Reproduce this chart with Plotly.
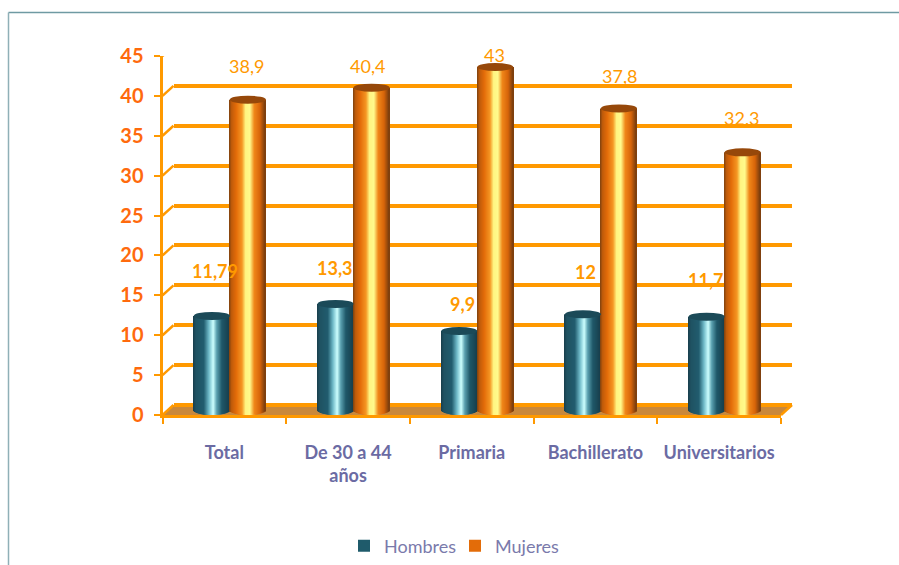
import math
import plotly.graph_objects as go

categories = ["Total", "De 30 a 44<br>años", "Primaria", "Bachillerato", "Universitarios"]
hombres = [11.79, 13.3, 9.9, 12, 11.7]
mujeres = [38.9, 40.4, 43, 37.8, 32.3]
hombres_text = ["11,79", "13,3", "9,9", "12", "11,7"]
mujeres_text = ["38,9", "40,4", "43", "37,8", "32,3"]
y_ticks = [0, 5, 10, 15, 20, 25, 30, 35, 40, 45]

W, H = 899, 565
X0, X1 = 162.5, 781.0      # front plot edges, px
Y0, Y45 = 415.0, 56.0      # front y of 0 and 45, px
DX, DY = 11.0, 10.0        # depth of the 3D box, px
PPU = (Y0 - Y45) / 45.0
ORANGE = "#FF9900"
NAVY = "#6B6BA3"
TICK = "#FF6A0D"


def dom_x(shift):
    return [(X0 + shift) / W, (X1 + shift) / W]


def dom_y(shift, extra=0.0):
    return [1 - (Y0 - shift + extra) / H, 1 - (Y45 - shift) / H]


def lerp_colors(stops, t):
    for (a, ca), (b, cb) in zip(stops, stops[1:]):
        if t <= b:
            f = (t - a) / (b - a)
            return "rgb(%d,%d,%d)" % tuple(round(p + (q - p) * f) for p, q in zip(ca, cb))
    return "rgb(%d,%d,%d)" % stops[-1][1]


TEAL = [(0, (24, 62, 75)), (0.08, (31, 82, 98)), (0.3, (33, 92, 110)), (0.44, (110, 185, 200)),
        (0.56, (205, 255, 255)), (0.66, (90, 160, 175)), (0.8, (31, 88, 105)), (1, (24, 62, 76))]
AMBER = [(0, (125, 65, 15)), (0.07, (190, 90, 10)), (0.2, (227, 108, 9)), (0.36, (245, 150, 35)),
         (0.46, (255, 245, 130)), (0.58, (255, 250, 140)), (0.7, (240, 135, 25)), (0.86, (215, 100, 9)),
         (1, (118, 60, 15))]

BAR_W = 36 / (X1 - X0) * 5
STRIPS = 36
BOTTOM = 5.0 / PPU
pos = list(range(len(categories)))

fig = go.Figure()


def cylinder(values, name, color, stops, off):
    fig.add_trace(go.Bar(x=pos, y=[0 for _ in values], base=0, name=name, marker_color=color,
                         xaxis="x2", yaxis="y2", width=BAR_W, offset=off, marker_line_width=0))
    step = BAR_W / STRIPS
    for i in range(STRIPS):
        t = (i + 0.5) / STRIPS
        u = 2 * t - 1
        drop = BOTTOM * math.sqrt(max(0.0, 1 - u * u))
        fig.add_trace(go.Bar(x=pos, y=[v + drop for v in values], base=-drop, showlegend=False,
                             marker_color=lerp_colors(stops, t), marker_line_width=0,
                             xaxis="x2", yaxis="y2", hoverinfo="skip",
                             width=min(step * 1.7, BAR_W - i * step), offset=off + i * step))


gap = 18.0 / (X1 - X0) * 5
cylinder(hombres, "Hombres", "#1F5B6B", TEAL, -gap - BAR_W / 2)
cylinder(mujeres, "Mujeres", "#E36C09", AMBER, gap - BAR_W / 2)

shapes = [
    dict(type="line", xref="paper", yref="paper", x0=8.5 / W, x1=1, y0=1 - 12.5 / H, y1=1 - 12.5 / H,
         line=dict(color="#6F9AA3", width=1.5), layer="below"),
    dict(type="line", xref="paper", yref="paper", x0=8.5 / W, x1=8.5 / W, y0=1 - 12.5 / H, y1=0,
         line=dict(color="#8FB0B7", width=1.5), layer="below"),
    dict(type="path", xref="paper", yref="paper", layer="below", line_width=0, fillcolor="#C9883B",
         path="M %f %f L %f %f L %f %f L %f %f Z" % (
             X0 / W, 1 - Y0 / H, X1 / W, 1 - Y0 / H,
             (X1 + DX) / W, 1 - (Y0 - DY) / H, (X0 + DX) / W, 1 - (Y0 - DY) / H)),
    dict(type="line", xref="paper", yref="paper", layer="below", line=dict(color=ORANGE, width=2.5),
         x0=X1 / W, x1=(X1 + DX) / W, y0=1 - Y0 / H, y1=1 - (Y0 - DY) / H),
]
for v in y_ticks:
    shapes.append(dict(type="line", xref="x3", yref="y3", layer="below",
                       xsizemode="pixel", ysizemode="pixel", xanchor=-0.5, yanchor=v,
                       x0=0, x1=DX, y0=0, y1=DY, line=dict(color=ORANGE, width=2.5)))
for values, cap in ((hombres, "#1B4A58"), (mujeres, "#96480A")):
    off = -gap if cap == "#1B4A58" else gap
    for p, v in zip(pos, values):
        shapes.append(dict(type="circle", xref="x2", yref="y2", layer="above",
                           xsizemode="pixel", ysizemode="pixel", xanchor=p + off, yanchor=v,
                           x0=-18, x1=18, y0=-4, y1=4, fillcolor=cap, line_width=0))

# label offsets from the top of each bar, px (labels were hand-placed in the original)
label_shift = dict(
    hombres=[(3, 45), (-1, 36), (3, 27), (3, 42), (-1, 37)],
    mujeres=[(-1, 34), (-4, 22), (-1, 12), (1, 32), (-1, 34)],
)
annotations = []
for values, texts, key, off in ((hombres, hombres_text, "hombres", -gap), (mujeres, mujeres_text, "mujeres", gap)):
    for p, v, t, (sx, sy) in zip(pos, values, texts, label_shift[key]):
        annotations.append(dict(x=p + off, y=v, xref="x2", yref="y2", text=t, showarrow=False,
                                xshift=sx, yshift=sy,
                                font=dict(family="Lato", size=18, color=ORANGE,
                                          weight="bold" if key == "hombres" else "normal")))

common = dict(fixedrange=True)
fig.update_layout(
    width=W, height=H, margin=dict(l=0, r=0, t=0, b=0, autoexpand=False),
    paper_bgcolor="white", plot_bgcolor="rgba(0,0,0,0)",
    barmode="overlay", shapes=shapes, annotations=annotations,
    font=dict(family="Lato"),
    legend=dict(orientation="h", x=(385 - 41) / W, xanchor="left", y=1 - 546 / H, yanchor="middle",
                font=dict(family="Lato", size=18, color="#7A7AAB"),
                entrywidth=66, entrywidthmode="pixels",
                itemclick=False, itemdoubleclick=False, traceorder="normal"),
    # back wall: carries the gridlines
    xaxis=dict(domain=dom_x(DX), range=[-0.5, 4.5], visible=False, **common),
    yaxis=dict(domain=dom_y(DY), range=[0, 45], tickvals=y_ticks, showgrid=True,
               gridcolor=ORANGE, gridwidth=3.5, showticklabels=False, ticks="", zeroline=True,
               zerolinecolor=ORANGE, zerolinewidth=3.5, showline=False, **common),
    # mid depth: carries the bars
    xaxis2=dict(domain=dom_x(DX / 2), range=[-0.5, 4.5], visible=False, anchor="y2", **common),
    yaxis2=dict(domain=dom_y(DY / 2, 8.0), range=[-8.0 / PPU, 45], visible=False, anchor="x2", **common),
    # front: ticks and labels
    xaxis3=dict(domain=dom_x(0), type="category", categoryorder="array", categoryarray=categories,
                range=[-0.5, 4.5], anchor="y3", tickson="boundaries", ticks="outside", ticklen=6,
                tickwidth=2, tickcolor=ORANGE, showline=True, linecolor=ORANGE, linewidth=3,
                showgrid=False, ticklabelstandoff=19,
                tickfont=dict(family="Lato", size=18, color=NAVY, weight="bold"), **common),
    yaxis3=dict(domain=dom_y(0), range=[0, 45], tickvals=y_ticks, anchor="x3", ticks="outside",
                ticklen=6, tickwidth=2, tickcolor=ORANGE, showline=True, linecolor=ORANGE, linewidth=3,
                showgrid=False, zeroline=False, ticklabelstandoff=6,
                tickfont=dict(family="Lato", size=20, color=TICK, weight="bold"), **common),
)
# invisible traces put the category axis, the front value axis and the grid on the page
fig.add_trace(go.Scatter(x=categories, y=[0] * len(categories), xaxis="x3", yaxis="y3",
                         mode="markers", marker_opacity=0, showlegend=False, hoverinfo="skip"))
fig.add_trace(go.Scatter(x=pos, y=[0] * len(pos), xaxis="x", yaxis="y",
                         mode="markers", marker_opacity=0, showlegend=False, hoverinfo="skip"))

fig.write_html("out.html", config=dict(displayModeBar=False),
               post_script="document.body.style.margin='0';document.body.style.overflow='hidden';")
